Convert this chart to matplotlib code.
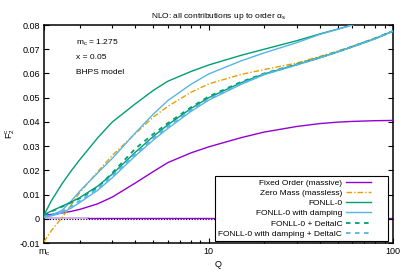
import matplotlib
matplotlib.use("Agg")
import matplotlib.pyplot as plt
from matplotlib.ticker import FixedLocator, NullFormatter, LogLocator

plt.rcParams['font.family'] = ['Liberation Sans', 'DejaVu Sans']
plt.rcParams['mathtext.fontset'] = 'custom'
plt.rcParams['mathtext.rm'] = 'Liberation Sans'
plt.rcParams['mathtext.it'] = 'Liberation Sans:italic'

# ---------------- data
Q = [1.275, 1.4, 1.6, 1.8, 2.0, 2.5, 3.0, 4.0, 5.0, 6.0, 8.0, 10, 15, 20, 30, 40, 50, 60, 80, 100]

fixed_order = [0.0015, 0.0018, 0.0024, 0.0031, 0.0039, 0.0062, 0.0090, 0.0148, 0.0195, 0.0232,
               0.0272, 0.0297, 0.0335, 0.0358, 0.0381, 0.0393, 0.0399, 0.0402, 0.0405, 0.0406]
zero_mass = [-0.0095, -0.0048, 0.0005, 0.0060, 0.0110, 0.0195, 0.0262, 0.0352, 0.0420, 0.0464,
             0.0522, 0.0557, 0.0596, 0.0616, 0.0643, 0.0670, 0.0692, 0.0712, 0.0746, 0.0776]
fonll0 = [0.0015, 0.0075, 0.0145, 0.0200, 0.0245, 0.0335, 0.0400, 0.0475, 0.0530, 0.0568,
          0.0608, 0.0635, 0.0675, 0.0700, 0.0735, 0.0763, 0.0783, 0.0800, 0.0825, 0.0845]
fonll0_damp = [0.0008, 0.0015, 0.0035, 0.0075, 0.0115, 0.0190, 0.0250, 0.0355, 0.0432, 0.0488,
               0.0555, 0.0598, 0.0652, 0.0685, 0.0727, 0.0761, 0.0782, 0.0800, 0.0824, 0.0844]
# lower bundle
fonll0_low = [0.0017, 0.0032, 0.0052, 0.0070, 0.0088, 0.0135, 0.0185, 0.0275, 0.0340, 0.0388,
              0.0455, 0.0500, 0.0562, 0.0598, 0.0637, 0.0665, 0.0689, 0.0710, 0.0744, 0.0775]
fonll0_dic = [0.0015, 0.0030, 0.0050, 0.0068, 0.0085, 0.0130, 0.0190, 0.0290, 0.0350, 0.0395,
              0.0460, 0.0505, 0.0565, 0.0600, 0.0638, 0.0666, 0.0690, 0.0711, 0.0745, 0.0775]
fonll0_damp_low = [0.0008, 0.0012, 0.0025, 0.0045, 0.0068, 0.0118, 0.0170, 0.0260, 0.0325, 0.0373,
                   0.0443, 0.0490, 0.0555, 0.0595, 0.0635, 0.0664, 0.0688, 0.0709, 0.0743, 0.0774]
fonll0_damp_dic = [0.0008, 0.0014, 0.0030, 0.0052, 0.0075, 0.0125, 0.0178, 0.0268, 0.0332, 0.0380,
                   0.0449, 0.0495, 0.0558, 0.0597, 0.0636, 0.0665, 0.0689, 0.0710, 0.0744, 0.0775]

# flat contributions at zero
zero_q = [1.275, 100]
zero_line = [0.0, 0.0]
flat_light_q = [1.275, 2.2]
flat_light = [0.0003, 0.0003]
flat_dark_q = [2.2, 100]
flat_dark = [0.0003, 0.0003]

mc = 1.275
labels = ["Fixed Order (massive)", "Zero Mass (massless)", "FONLL-0",
          "FONLL-0 with damping", "FONLL-0 + DeltaIC", "FONLL-0 with damping + DeltaIC"]

purple = "#9400d3"
orange = "#e69f00"
green = "#009e73"
blue = "#56b4e9"
lavender = "#c89cf0"

fig = plt.figure(figsize=(4.07, 2.71), dpi=100)
ax = fig.add_axes([0.108, 0.1033, 0.8575, 0.8044])

ax.plot(zero_q, zero_line, color="black", lw=0.8, ls=(0, (1, 1.5)), zorder=1)
ax.plot(flat_light_q, flat_light, color=lavender, lw=1.2, zorder=2)
ax.plot(flat_dark_q, flat_dark, color=purple, lw=1.0, zorder=2)

lw = 1.0
ax.plot(Q, fixed_order, color=purple, lw=lw, label=labels[0], zorder=3)
ax.plot(Q, zero_mass, color=orange, lw=lw, dashes=(4, 1.5, 1, 1.5), label=labels[1], zorder=3)
ax.plot(Q, fonll0, color=green, lw=lw, label=labels[2], zorder=3)
ax.plot(Q, fonll0_damp, color=blue, lw=lw, label=labels[3], zorder=3)
ax.plot(Q, fonll0_low, color=green, lw=lw, zorder=3)
ax.plot(Q, fonll0_damp_low, color=blue, lw=lw, zorder=3)
ax.plot(Q, fonll0_dic, color=green, lw=1.3, dashes=(2.5, 2.5), label=labels[4], zorder=4)
ax.plot(Q, fonll0_damp_dic, color=blue, lw=1.3, dashes=(2.5, 2.5), label=labels[5], zorder=4)

ax.set_xscale("log")
ax.set_xlim(mc, 100)
ax.set_ylim(-0.01, 0.08)

ax.xaxis.set_major_locator(FixedLocator([mc, 10, 100]))
ax.set_xticklabels([r"$\mathregular{m_c}$", "10", "100"])
ax.xaxis.set_minor_locator(LogLocator(base=10, subs=range(2, 10)))
ax.xaxis.set_minor_formatter(NullFormatter())

yt = [-0.01, 0, 0.01, 0.02, 0.03, 0.04, 0.05, 0.06, 0.07, 0.08]
ax.set_yticks(yt)
ax.set_yticklabels(["-0.01", "0", "0.01", "0.02", "0.03", "0.04", "0.05", "0.06", "0.07", "0.08"])

ax.tick_params(which="both", direction="in", top=True, right=True, labelsize=6.5, width=0.8)
ax.tick_params(which="major", length=3.5, pad=3)
ax.tick_params(which="minor", length=2)
for s in ax.spines.values():
    s.set_linewidth(1.1)

ax.set_xlabel("Q", fontsize=6.5, labelpad=2)
ax.set_ylabel(r"$\mathregular{F_2^c}$", fontsize=6.5, labelpad=2)
ax.set_title(r"NLO: all contributions up to order $\mathregular{\alpha_s}$", fontsize=6, pad=5)

ax.text(0.092, 0.919, r"$\mathregular{m_c}$ = 1.275", transform=ax.transAxes, fontsize=6, va="center")
ax.text(0.092, 0.852, "x = 0.05", transform=ax.transAxes, fontsize=6, va="center")
ax.text(0.092, 0.783, "BHPS model", transform=ax.transAxes, fontsize=6, va="center")

leg = ax.legend(loc="lower left", bbox_to_anchor=(0.49, 0.009, 0.497, 0.3), mode="expand",
                markerfirst=False, fontsize=6, frameon=True, fancybox=False, framealpha=1,
                edgecolor="black", handlelength=2.9, handletextpad=0.5, labelspacing=0.28,
                borderpad=0.4, borderaxespad=0)
leg.get_frame().set_linewidth(0.8)
leg.set_zorder(10)

fig.savefig("out.png", dpi=100)
